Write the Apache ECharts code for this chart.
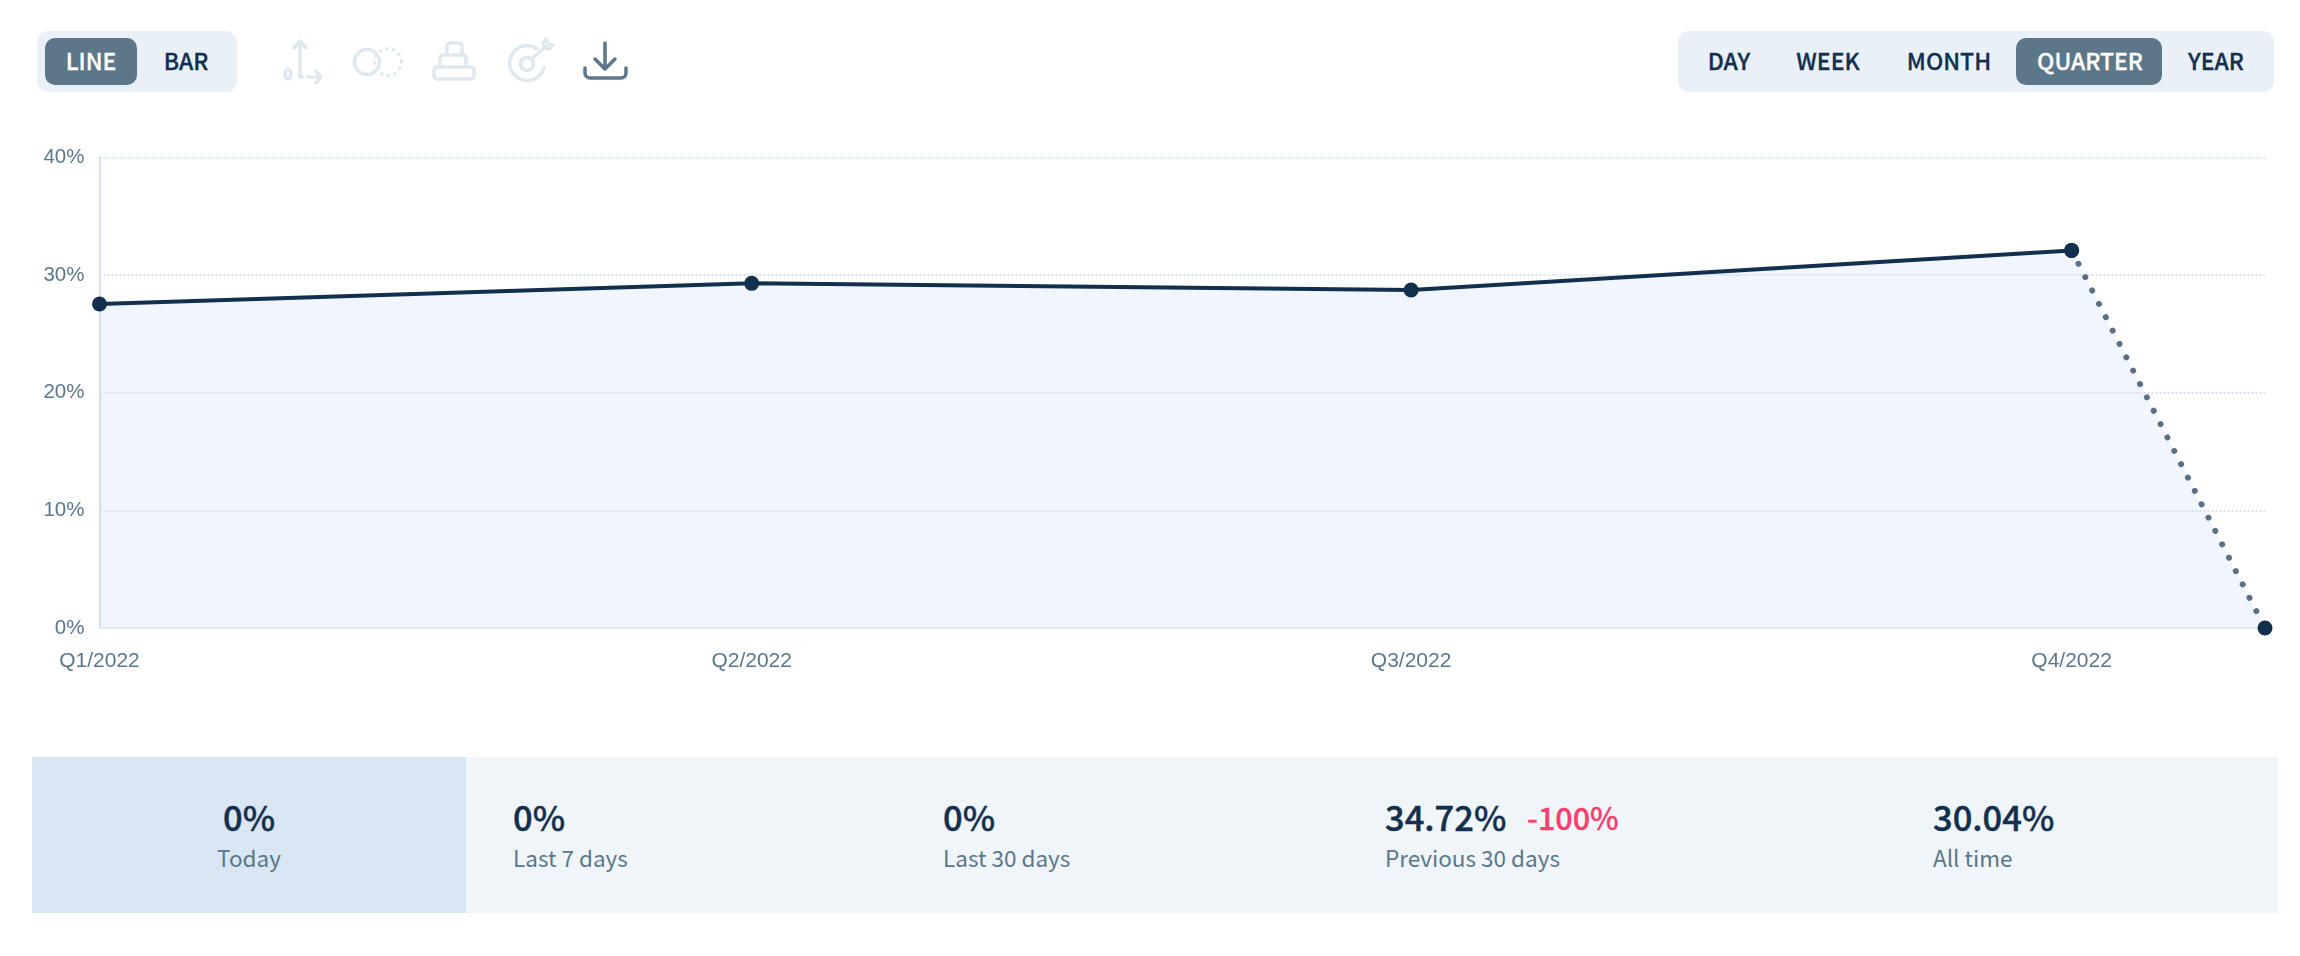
<!DOCTYPE html>
<html>
<head>
<meta charset="utf-8">
<title>Quarterly rate</title>
<script src="https://cdn.jsdelivr.net/npm/echarts@6/dist/echarts.min.js"></script>
<style>
  html, body { margin: 0; padding: 0; background: #fff; }
  body { width: 2300px; height: 956px; position: relative; overflow: hidden; font-family: "Noto Sans CJK SC", "Noto Sans", sans-serif; }
  #map { position: absolute; left: 0; top: 0; width: 2300px; height: 956px; }
  .box { position: absolute; top: 31px; height: 61px; background: #e9f0f7; border-radius: 11px; }
  .active { position: absolute; top: 38px; height: 47px; background: #5b7789; border-radius: 10px; }
  .btn { position: absolute; top: 37px; height: 47px; line-height: 47px; font-size: 23px; font-weight: 500; -webkit-text-stroke: 0.3px; color: #12304e; transform: translateX(-50%); white-space: nowrap; }
  .btn.on { color: #fff; }
  .band { position: absolute; top: 757px; height: 156px; }
  .val { position: absolute; top: 794px; line-height: 44px; font-size: 34.5px; font-weight: 500; -webkit-text-stroke: 0.4px; color: #12304e; white-space: nowrap; }
  .lbl { position: absolute; top: 839px; line-height: 36px; font-size: 22.5px; color: #5b7789; white-space: nowrap; }
  .delta { position: absolute; top: 795px; line-height: 44px; font-size: 30.5px; font-weight: 500; -webkit-text-stroke: 0.3px; color: #f73e6e; white-space: nowrap; }
  svg { position: absolute; left: 0; top: 0; }
</style>
</head>
<body>
<div id="map"></div>

<div class="box" style="left:37px;width:200px;"></div>
<div class="active" style="left:45px;width:92px;"></div>
<div class="btn on" style="left:91px;">LINE</div>
<div class="btn" style="left:186px;">BAR</div>

<svg width="700" height="110" fill="none" stroke-linecap="round" stroke-linejoin="round">
  <g stroke="#dfe7ef" stroke-width="3.5">
    <path d="M300 76V42M294 48l6-7 6 7"/>
    <ellipse cx="288" cy="74" rx="3" ry="5"/>
    <path d="M300 77h2M308 77h2M316 71l5 6-5 6M312 77h8"/>
    <circle cx="367" cy="62" r="12.5"/>
    <circle cx="388" cy="62" r="13.5" stroke-dasharray="0.1 6.8"/>
    <path d="M434 70a3 3 0 0 1 3-3h34a3 3 0 0 1 3 3v6a3 3 0 0 1-3 3h-34a3 3 0 0 1-3-3z"/>
    <path d="M440 67v-9a3 3 0 0 1 3-3h20a3 3 0 0 1 3 3v9"/>
    <path d="M447 55v-9a3 3 0 0 1 3-3h9a3 3 0 0 1 3 3v9"/>
    <circle cx="527" cy="64" r="6.5"/>
    <path d="M537 48.5A17.5 17.5 0 1 0 544 68"/>
    <path d="M532 59l14-13"/>
    <path d="M546 39l2 5 5 1-4 4-5-1-1-5z" stroke-width="3"/>
  </g>
  <g stroke="#5b7789" stroke-width="3.5">
    <path d="M605 43v26M595 59l10 10 10-10"/>
    <path d="M585 68v5a5 5 0 0 0 5 5h31a5 5 0 0 0 5-5v-5"/>
  </g>
</svg>

<div class="box" style="left:1678px;width:596px;"></div>
<div class="active" style="left:2016px;width:146px;"></div>
<div class="btn" style="left:1729px;">DAY</div>
<div class="btn" style="left:1828px;">WEEK</div>
<div class="btn" style="left:1949px;">MONTH</div>
<div class="btn on" style="left:2090px;">QUARTER</div>
<div class="btn" style="left:2216px;">YEAR</div>

<div class="band" style="left:32px;width:434px;background:#d9e6f3;"></div>
<div class="band" style="left:466px;width:1812px;background:#f0f5fa;"></div>

<div class="val" style="left:249px;transform:translateX(-50%);">0%</div>
<div class="lbl" style="left:249px;transform:translateX(-50%);">Today</div>
<div class="val" style="left:513px;">0%</div>
<div class="lbl" style="left:513px;">Last 7 days</div>
<div class="val" style="left:943px;">0%</div>
<div class="lbl" style="left:943px;">Last 30 days</div>
<div class="val" style="left:1385px;">34.72%</div>
<div class="delta" style="left:1527px;">-100%</div>
<div class="lbl" style="left:1385px;">Previous 30 days</div>
<div class="val" style="left:1933px;">30.04%</div>
<div class="lbl" style="left:1933px;">All time</div>

<script>
  var xDays = [0, 90.05, 181.1, 272.3, 299]
  var rates = [27.55, 29.3, 28.74, 32.1, 0]
  var quarterLabels = ['Q1/2022', 'Q2/2022', 'Q3/2022', 'Q4/2022']

  var points = xDays.map(function (d, i) { return [d, rates[i]] })
  var solidPoints = points.slice(0, 4)
  var dottedPoints = points.slice(3)

  // low opacity so the grid stays readable through the fill
  var areaStyle = { color: '#c6d6fa', opacity: 0.24 }

  var myChart = echarts.init(document.getElementById('map'))
  var option = {
    animation: false,
    grid: { left: 99.5, top: 157.5, width: 2165.5, height: 470.5 },
    xAxis: {
      type: 'value',
      min: 0,
      max: xDays[4],
      splitLine: { show: false },
      axisTick: { show: false },
      axisLine: { show: true, onZero: false, lineStyle: { color: '#e5eaf3', width: 2 } },
      axisLabel: {
        customValues: xDays.slice(0, 4),
        formatter: function (v) { return quarterLabels[xDays.indexOf(v)] },
        color: '#5b7789',
        fontFamily: 'Liberation Sans',
        fontSize: 21,
        margin: 23
      }
    },
    yAxis: {
      type: 'value',
      min: 0,
      max: 40,
      interval: 10,
      axisTick: { show: false },
      axisLine: { show: true, lineStyle: { color: '#d5dfec', width: 2 } },
      splitLine: { lineStyle: { color: '#d9e2ec', width: 2, type: [2, 2] } },
      axisLabel: {
        formatter: '{value}%',
        color: '#5b7789',
        fontFamily: 'Liberation Sans',
        fontSize: 20.5,
        margin: 15
      }
    },
    series: [
      {
        type: 'line',
        data: dottedPoints,
        clip: false,
        symbol: 'circle',
        symbolSize: 15,
        itemStyle: { color: '#12304e' },
        lineStyle: { color: '#5b7084', width: 6, type: [0.01, 15], cap: 'round' },
        areaStyle: areaStyle
      },
      {
        type: 'line',
        data: solidPoints,
        clip: false,
        symbol: 'circle',
        symbolSize: 15,
        itemStyle: { color: '#12304e' },
        lineStyle: { color: '#12304e', width: 4 },
        areaStyle: areaStyle
      }
    ]
  }
  myChart.setOption(option)
</script>
</body>
</html>
